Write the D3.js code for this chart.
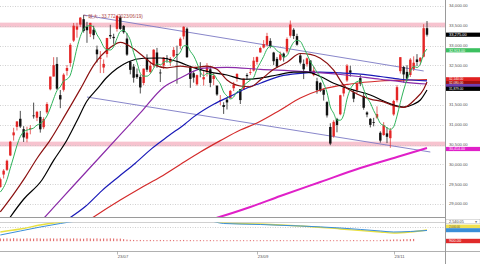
<!DOCTYPE html>
<html>
<head>
<meta charset="utf-8">
<script src="https://cdn.jsdelivr.net/npm/d3@7"></script>
<style>
body { margin: 0; background: #fff; }
svg text { font-family: "Liberation Sans", "DejaVu Sans", sans-serif; }
</style>
</head>
<body>
<div id="chart"></div>
<script>
// trading days shown (2023)
var dates = ["05/15","05/16","05/17","05/18","05/19","05/22","05/23","05/24","05/25","05/26","05/29","05/30","05/31",
  "06/01","06/02","06/05","06/06","06/07","06/08","06/09","06/12","06/13","06/14","06/15","06/16","06/19","06/20","06/21","06/22","06/23","06/26","06/27","06/28","06/29","06/30",
  "07/03","07/04","07/05","07/06","07/07","07/10","07/11","07/12","07/13","07/14","07/18","07/19","07/20","07/21","07/24","07/25","07/26","07/27","07/28","07/31",
  "08/01","08/02","08/03","08/04","08/07","08/08","08/09","08/10","08/14","08/15","08/16","08/17","08/18","08/21","08/22","08/23","08/24","08/25","08/28","08/29","08/30","08/31",
  "09/01","09/04","09/05","09/06","09/07","09/08","09/11","09/12","09/13","09/14","09/15","09/19","09/20","09/21","09/22","09/25","09/26","09/27","09/28","09/29",
  "10/02","10/03","10/04","10/05","10/06","10/10","10/11","10/12","10/13","10/16","10/17","10/18","10/19","10/20","10/23","10/24","10/25","10/26","10/27","10/30","10/31",
  "11/01","11/02","11/06","11/07","11/08","11/09","11/10","11/13","11/14","11/15","11/16"];

var opens = [29428,29744,29863,30225,30734,30948,31152,30890,30651,30895,31236,31178,31200,
  30939,31315,31896,32219,32537,31750,31883,32362,32560,33126,33402,33530,33667,33480,33300,33400,32900,32664,32446,32788,33268,33220,
  33423,33713,33498,33178,32591,32470,32277,32210,32056,32686,32331,32531,32826,32320,32497,32688,32587,32728,32780,32992,
  33232,33427,32446,32303,32022,32424,32148,32326,32401,32156,31985,31620,31500,31636,31676,31924,32168,31902,31888,32258,32320,32370,
  32588,32827,32951,33020,33119,32825,32665,32640,32799,32853,33250,33400,33240,32750,32540,32529,32625,32255,32100,32058,
  31887,31573,30945,30711,31148,31265,31792,32119,32374,31824,31878,32179,31729,31312,31151,31066,31180,30799,30741,30784,30662,
  31262,31620,32354,32457,32336,32258,32411,32650,32601,32720,33440];
var highs = [29668,29879,30121,30594,30924,31086,31352,30965,30952,30990,31560,31352,31350,
  31191,31572,32217,32708,32708,31878,32301,32510,33060,33571,33575,33720,33772,33600,33575,33500,33000,32863,32650,33193,33527,33300,
  33762,33754,33517,33316,32618,32536,32422,32266,32418,32780,32595,32908,32942,32403,32707,32760,32712,32962,33000,33206,
  33488,33460,32480,32363,32270,32581,32359,32558,32482,32305,32004,31750,31570,31688,31880,32082,32297,31902,32169,32304,32431,32710,
  32729,32962,33139,33322,33187,32843,32713,32847,32825,33207,33634,33440,33300,32800,32650,32700,32625,32478,32187,32078,
  31914,31596,31039,31116,31175,31758,31985,32533,32489,31880,32072,32260,31806,31341,31168,31176,31466,30837,31066,30941,30920,
  31630,32003,32708,32487,32505,32685,32729,32785,32704,33540,33620];
var lows = [29412,29645,29834,30209,30601,30856,30918,30566,30558,30760,31156,31093,30802,
  30889,31276,31870,32219,31880,31420,31840,32244,32464,33092,33200,33471,33328,33070,33215,33160,32575,32306,32306,32700,33168,33045,
  33354,33397,33300,32740,32275,32065,32160,31791,31999,32334,32296,32451,32438,32080,32410,32567,32490,32700,32037,32909,
  33158,32690,31934,32065,31985,32200,31991,32219,31950,32000,31731,31500,31275,31387,31663,31852,32089,31525,31888,32134,32260,32347,
  32521,32824,32930,32975,32932,32512,32434,32610,32596,32808,33200,33165,32998,32528,32154,32470,32306,32226,31785,31826,
  31611,31183,30487,30674,30811,31240,31716,32081,32213,31571,31796,31976,31381,31191,30934,30962,31152,30551,30725,30538,30419,
  31228,31566,32293,32068,32101,32207,32359,32485,32521,32700,33230];
var closes = [29626,29842,30093,30573,30808,31086,30957,30682,30801,30916,31233,31328,30887,
  31148,31524,32217,32506,31913,31641,32265,32434,33018,33502,33485,33706,33370,33388,33575,33264,32781,32698,32538,33193,33234,33189,
  33753,33422,33338,32773,32388,32189,32203,31943,32419,32391,32493,32896,32490,32304,32700,32682,32668,32891,32759,33172,
  33476,32707,32159,32192,32254,32377,32204,32473,32059,32238,31766,31626,31450,31565,31856,32010,32287,31624,32169,32227,32333,32619,
  32710,32939,33036,33241,32991,32606,32467,32776,32706,33168,33533,33242,33023,32571,32402,32678,32315,32371,31872,31857,
  31759,31237,30526,31075,30994,31746,31936,32494,32315,31659,32040,32042,31430,31259,30999,31062,31269,30601,30991,30697,30859,
  31601,31950,32708,32272,32166,32646,32568,32586,32695,33440,33275];

// moving averages ([candle index, price])
var ma5 = [29301,29421,29615,29904,30188,30480,30703,30821,30867,30888,30918,30992,31033,
  31102,31224,31421,31656,31862,31960,32108,32152,32254,32572,32941,33229,33416,33490,33505,33461,33276,33141,32971,32895,32889,32970,
  33181,33358,33387,33295,33135,32822,32578,32299,32228,32229,32290,32428,32538,32515,32577,32614,32569,32649,32740,32834,
  32993,33001,32855,32741,32558,32338,32237,32300,32273,32270,32148,32032,31828,31729,31653,31701,31834,31868,31989,32063,32128,32194,
  32412,32566,32727,32909,32983,32963,32868,32816,32709,32745,32930,33085,33134,33107,32954,32783,32598,32467,32328,32219,
  32035,31819,31450,31291,31118,31116,31255,31649,31897,32030,32089,32110,31897,31686,31554,31358,31204,31038,30984,30924,30883,
  30950,31220,31563,31878,32139,32348,32472,32448,32532,32787,32913];
var ma13 = [[0,28800],[4,29250],[7.5,29680],[11,30150],[15,30620],[19.5,31250],[24,31900],[28,32500],[33,32950],[36,33080],
  [40,32920],[43,32720],[46,32520],[50,32440],[54,32480],[58,32450],[62,32480],[65,32400],[68,32130],[72,31980],[75,31960],
  [78,32130],[82,32400],[86,32580],[90,32800],[93,32780],[96,32680],[100,32380],[103,32000],[107,31780],[111,31650],[115,31580],
  [118,31480],[121,31440],[124.5,31650],[127,31900],[128,32080]];
var ma25 = [[0,28300],[3,28672],[7,29120],[12.5,29606],[16,30100],[20,30616],[23,31100],[26,31600],[29,31900],[32,32200],
  [35,32420],[38.3,32586],[43,32680],[48,32687],[53,32600],[58,32440],[63,32330],[68,32258],[73,32150],[78,32180],[83,32258],
  [88,32330],[92,32330],[96,32220],[100,32050],[105,31900],[111,31753],[115,31600],[118,31500],[121,31450],[124,31520],
  [126,31626],[128,31879]];
var ma50 = [[9,28300],[13.4,28672],[18,29100],[24,29650],[30,30200],[36,30750],[42,31300],[49,31950],[54,32180],[61,32430],
  [68,32450],[78,32400],[90,32350],[102,32270],[114,32150],[121,32080],[128,32030]];
var ma75 = [[20.5,28631],[25.5,28936],[30.5,29339],[35.5,29689],[40.5,30030],[45.5,30405],[50.5,30722],[55.5,31028],[58,31200],
  [64,31520],[70,31760],[74,31930],[78,32050],[84,32230],[90,32300],[96,32330],[102,32310],[108,32280],[114,32220],[120,32150],
  [128,32110]];
var ma100 = [[26,28560],[28,28672],[36,29100],[42,29400],[48,29682],[54,30000],[60,30313],[66,30600],[72,30869],[77,31045],
  [84,31374],[90,31677],[96,31879],[105,32030],[114,32106],[123,32131],[128,32140]];
var ma200 = [[60,28540],[65,28654],[75,28924],[84,29202],[96,29556],[108,29909],[120,30212],[128,30414]];

// trend channel and horizontal zones
var channelTop = [[25,33772],[127,32359]];
var channelBottom = [[26,31702],[129,30313]];
var zones = [[33460,33580],[30455,30575]];
var priceTicks = [29000,29500,30000,30500,31000,31500,32000,32500,33000,33500,34000];
var dateTicks = [35,77,118];
var dateLabels = ["23/07","23/09","23/11"];

// lower panel
var subYellow = [[0,1632],[6,1896],[12,2249],[16,2425],[21,2602],[30,2950],[45,3100],[60,2800],[68,2425],[78,2337],[90,2161],
  [102,1896],[114,1632],[118,1543],[123,1632],[128,1808]];
var subBlue = [[0,1367],[6,1720],[12,2073],[18,2381],[24,2650],[35,2950],[50,3050],[62,2700],[67,2381],[78,2293],[90,2161],
  [102,1984],[114,1720],[118,1632],[123,1676],[128,1764]];
var subRed = [1060,1040,1070,1050,1080,1060,1050,1040,1070,1060,1050,1080,1060,1040,1050,1070,1060,1050,1080,1040,1060,1050,1070,1060,
  1050,1040,1080,1060,1050,1070,1040,1060,1050,1070,1060,1040,1050,1000,960,940,930,920,930,910,920,930,910,920,930,920,
  910,930,920,910,920,930,910,920,900,910,920,900,910,920,900,910,900,920,910,900,910,920,900,910,900,920,910,900,
  910,900,920,910,900,910,920,900,910,900,920,910,900,910,900,920,910,900,910,920,900,910,900,920,910,900,910,900,
  920,910,900,910,920,900,910,900,920,940,960,950,970,980,960,990,1000,1010,1020];

var W = 480, H = 264, plotRight = 445, mainBottom = 217;

var svg = d3.select("#chart").append("svg")
  .attr("width", W).attr("height", H);

var x = d3.scaleLinear().domain([0, dates.length - 1]).range([0.3, 427]);
var y = d3.scaleLinear().domain([29000, 34000]).range([204, 6]);
var ySub = d3.scaleLinear().domain([0, 2540.05]).range([250.5, 221.7]);

svg.append("clipPath").attr("id", "mainClip")
  .append("rect").attr("x", 0).attr("y", 0).attr("width", plotRight).attr("height", mainBottom);
svg.append("clipPath").attr("id", "subClip")
  .append("rect").attr("x", 0).attr("y", 222.5).attr("width", plotRight).attr("height", 29);

var main = svg.append("g").attr("clip-path", "url(#mainClip)");

// pink zones
main.selectAll(".zone").data(zones).enter().append("rect")
  .attr("x", 0).attr("width", plotRight)
  .attr("y", function(d) { return y(d[1]); })
  .attr("height", function(d) { return y(d[0]) - y(d[1]); })
  .attr("fill", "#f7c3cf");

// grid
main.selectAll(".grid").data(priceTicks).enter().append("line")
  .attr("x1", 0).attr("x2", plotRight)
  .attr("y1", function(d) { return Math.round(y(d)) + 0.5; })
  .attr("y2", function(d) { return Math.round(y(d)) + 0.5; })
  .attr("stroke", "#c4c4c4").attr("stroke-width", 0.8).attr("stroke-dasharray", "1,1.5");

// channel lines
[channelTop, channelBottom].forEach(function(seg) {
  main.append("line")
    .attr("x1", x(seg[0][0])).attr("y1", y(seg[0][1]))
    .attr("x2", x(seg[1][0])).attr("y2", y(seg[1][1]))
    .attr("stroke", "#7a78c4").attr("stroke-width", 0.9);
});

// candles
var candleW = 2.4;
var candles = main.selectAll(".candle").data(dates).enter().append("g");
candles.append("line")
  .attr("x1", function(d, i) { return x(i); }).attr("x2", function(d, i) { return x(i); })
  .attr("y1", function(d, i) { return y(highs[i]); })
  .attr("y2", function(d, i) { return y(lows[i]); })
  .attr("stroke", function(d, i) { return closes[i] >= opens[i] ? "#e03a3a" : "#222"; })
  .attr("stroke-width", 0.8);
candles.append("rect")
  .attr("x", function(d, i) { return x(i) - candleW / 2; })
  .attr("width", candleW)
  .attr("y", function(d, i) { return y(Math.max(opens[i], closes[i])); })
  .attr("height", function(d, i) { return Math.max(0.8, Math.abs(y(opens[i]) - y(closes[i]))); })
  .attr("fill", function(d, i) { return closes[i] >= opens[i] ? "#e42626" : "#111"; });

// moving averages
var knotLine = d3.line()
  .x(function(d) { return x(d[0]); })
  .y(function(d) { return y(d[1]); })
  .curve(d3.curveMonotoneX);
var maSeries = [
  { data: ma200, color: "#e020c8", width: 2 },
  { data: ma100, color: "#d42a2a", width: 1.2 },
  { data: ma75, color: "#1a1ab8", width: 1.2 },
  { data: ma50, color: "#8a2aa8", width: 1.2 },
  { data: ma25, color: "#000", width: 1.2 },
  { data: ma13, color: "#8b1010", width: 1.2 },
  { data: ma5.map(function(v, i) { return [i, v]; }), color: "#2fb35a", width: 1 }
];
maSeries.forEach(function(s) {
  main.append("path").attr("d", knotLine(s.data))
    .attr("fill", "none").attr("stroke", s.color).attr("stroke-width", s.width);
});

// max annotation
var iMax = d3.maxIndex(highs);
main.append("line")
  .attr("x1", x(iMax)).attr("y1", y(highs[iMax]))
  .attr("x2", x(iMax) + 3).attr("y2", y(highs[iMax]) + 1)
  .attr("stroke", "#b04848").attr("stroke-width", 0.6);
svg.append("text")
  .attr("x", x(iMax) + 4).attr("y", y(highs[iMax]) + 2.6)
  .attr("font-size", 4.6).attr("fill", "#b04848")
  .text("最大 : " + d3.format(",")(highs[iMax]) + " (2023/" + dates[iMax] + ")");

// panel frame
svg.append("line").attr("x1", 0).attr("x2", plotRight).attr("y1", 217.5).attr("y2", 217.5)
  .attr("stroke", "#9a9a9a").attr("stroke-width", 1);
svg.append("line").attr("x1", 0).attr("x2", plotRight).attr("y1", 222.5).attr("y2", 222.5)
  .attr("stroke", "#d0d0d0").attr("stroke-width", 1);
svg.append("line").attr("x1", 0).attr("x2", W).attr("y1", 251.5).attr("y2", 251.5)
  .attr("stroke", "#b0b0b0").attr("stroke-width", 1);
svg.append("line").attr("x1", plotRight + 0.5).attr("x2", plotRight + 0.5).attr("y1", 0).attr("y2", H)
  .attr("stroke", "#9a9a9a").attr("stroke-width", 1);

// right price axis (the 32,000 label sits under the stacked value tags)
svg.selectAll(".plabel").data(priceTicks.filter(function(d) { return d !== 32000; })).enter().append("text")
  .attr("x", 449).attr("y", function(d) { return y(d) + 1.3; })
  .attr("font-size", 4.2).attr("fill", "#555")
  .text(function(d) { return d3.format(",.2f")(d); });

// value tags on the axis
var tags = [
  { v: closes[closes.length - 1], bg: "#000", fg: "#fff", fs: 4, at: y(closes[closes.length - 1]) },
  { v: ma5[ma5.length - 1], bg: "#3cc060", fg: "#fff", fs: 3.6, at: 50.3 },
  { v: ma100[ma100.length - 1][1], bg: "#e02020", fg: "#fff", at: 79.3, fs: 3.2 },
  { v: ma13[ma13.length - 1][1], bg: "#a01010", fg: "#fff", at: 83.1, fs: 3.2 },
  { v: ma50[ma50.length - 1][1], bg: "#7040b0", fg: null, at: 86, fs: 3.2 },
  { v: ma25[ma25.length - 1][1], bg: "#000", fg: "#fff", at: 88.8, fs: 3.2 },
  { v: ma200[ma200.length - 1][1], bg: "#e020c8", fg: "#fff", fs: 3.6, at: 149 }
];
tags.forEach(function(t) {
  svg.append("rect").attr("x", plotRight + 1).attr("y", t.at - 2.1).attr("width", W - plotRight - 1).attr("height", 4.2)
    .attr("fill", t.bg);
  if (t.fg) {
    svg.append("text").attr("x", 449).attr("y", t.at + t.fs * 0.36).attr("font-size", t.fs).attr("fill", t.fg)
      .text(d3.format(",.2f")(t.v));
  }
});

// lower panel
var sub = svg.append("g").attr("clip-path", "url(#subClip)");
sub.append("line").attr("x1", 0).attr("x2", plotRight).attr("y1", 227.5).attr("y2", 227.5)
  .attr("stroke", "#c4c4c4").attr("stroke-width", 0.8).attr("stroke-dasharray", "1,1.5");
var subLine = d3.line()
  .x(function(d) { return x(d[0]); })
  .y(function(d) { return ySub(d[1]); })
  .curve(d3.curveMonotoneX);
sub.append("path").attr("d", subLine(subYellow)).attr("fill", "none")
  .attr("stroke", "#e8e040").attr("stroke-width", 1.3);
sub.append("path").attr("d", subLine(subBlue)).attr("fill", "none")
  .attr("stroke", "#3a8ed8").attr("stroke-width", 1);
sub.selectAll(".rbar").data(subRed).enter().append("line")
  .attr("x1", function(d, i) { return x(i); }).attr("x2", function(d, i) { return x(i); })
  .attr("y1", ySub(820)).attr("y2", function(d) { return ySub(d); })
  .attr("stroke", "#d83030").attr("stroke-width", 0.8);

// lower panel axis tags
svg.append("rect").attr("x", plotRight + 1).attr("y", 219.6).attr("width", W - plotRight - 1).attr("height", 4.2)
  .attr("fill", "#fff").attr("stroke", "#aaa").attr("stroke-width", 0.4);
svg.append("text").attr("x", 449).attr("y", 223.1).attr("font-size", 3.8).attr("fill", "#444").text("2,540.05");
svg.append("text").attr("x", 474.5).attr("y", 223.1).attr("font-size", 3.2).attr("fill", "#444").text("▼");
svg.append("rect").attr("x", plotRight + 1).attr("y", 224.6).attr("width", W - plotRight - 1).attr("height", 3.6).attr("fill", "#f0e050");
svg.append("rect").attr("x", plotRight + 1).attr("y", 228.2).attr("width", W - plotRight - 1).attr("height", 4).attr("fill", "#3a8ed8");
svg.append("text").attr("x", 449).attr("y", 227.5).attr("font-size", 2.8).attr("fill", "#555").text("2,000.00");
svg.append("rect").attr("x", plotRight + 1).attr("y", 238.8).attr("width", W - plotRight - 1).attr("height", 4.4).attr("fill", "#e02a2a");
svg.append("text").attr("x", 449).attr("y", 242.4).attr("font-size", 4).attr("fill", "#fff").text("900.00");

// date axis
dateTicks.forEach(function(t, k) {
  svg.append("line").attr("x1", Math.round(x(t)) + 0.5).attr("x2", Math.round(x(t)) + 0.5)
    .attr("y1", 251.5).attr("y2", 254.5).attr("stroke", "#888").attr("stroke-width", 0.6);
  svg.append("text").attr("x", x(t) + 0.8).attr("y", 258.4).attr("font-size", 4.2).attr("fill", "#555")
    .text(dateLabels[k]);
});
</script>
</body>
</html>
